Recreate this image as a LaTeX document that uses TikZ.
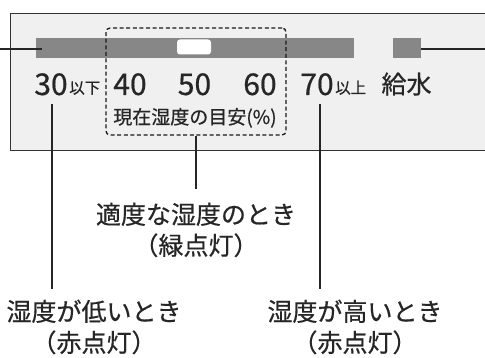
\documentclass[tikz,border=0pt]{standalone}
\usepackage{fontspec}
\setmainfont{Noto Sans CJK JP}[FakeBold=0.6]
\begin{document}
\begin{tikzpicture}[x=1pt,y=-1pt,
  ink/.style={text=black!85},
  lead/.style={draw=black!85,line width=1.1pt},
  num/.style={ink,font=\fontsize{30}{30}\selectfont,inner sep=0pt,anchor=base},
  small/.style={ink,font=\fontsize{15.5}{16}\selectfont,inner sep=0pt,anchor=base west},
  lbl/.style={ink,font=\fontsize{25}{31}\selectfont,align=center,inner sep=0pt},
  graybar/.style={fill=black!47,draw=none,inner sep=0pt}]
\useasboundingbox (0,0) rectangle (485,358);
\clip (0,0) rectangle (485,358);
\fill[white] (0,0) rectangle (485,358);
% panel
\node[draw=black!80,line width=1.2pt,fill=black!6,minimum width=500,minimum height=137,inner sep=0pt,anchor=north west] (panel) at (10,13) {};
% bar and indicator
\node[graybar,minimum width=318,minimum height=20] (bar) at (195,48) {};
\node[fill=white,rounded corners=3pt,minimum width=34,minimum height=15,inner sep=0pt] (ind) at (194,47) {};
\node[graybar,minimum width=28,minimum height=20] (sq) at (407,48) {};
% dashed box
\node[draw=black!90,dashed,dash pattern=on 4pt off 2.6pt,line width=1.3pt,rounded corners=4pt,minimum width=180,minimum height=107,inner sep=0pt] (dbox) at (196,81.5) {};
% numbers
\node[num] (n30) at (51,95) {30};
\node[small] (n30s) at (69,93.5) {以下};
\node[num] (n40) at (130,95) {40};
\node[num] (n50) at (194.5,95) {50};
\node[num] (n60) at (260,95) {60};
\node[num] (n70) at (317,95) {70};
\node[small] (n70s) at (335,93.5) {以上};
\node[ink,font=\fontsize{25}{25}\selectfont,inner sep=0pt,anchor=base] (kyusui) at (406.5,93.5) {給水};
\node[ink,font=\fontsize{19}{19}\selectfont,inner sep=0pt,anchor=base] (meyasu) at (195,124) {現在湿度の目安(\%)};
% labels
\node[lbl] (mid) at (196,230) {適度な湿度のとき\\（緑点灯）};
\node[lbl] (low) at (94,327) {湿度が低いとき\\（赤点灯）};
\node[lbl] (high) at (355,327) {湿度が高いとき\\（赤点灯）};
% side connectors
\coordinate (lfree) at (0,49);
\coordinate (rfree) at (485,49);
\draw[lead] (lfree) -- ([xshift=6pt]bar.west |- lfree);
\draw[lead] (sq.east |- rfree) -- (rfree);
% leaders
\coordinate (lowtop) at (52,289);
\coordinate (hightop) at (320,289);
\coordinate (midtop) at (196,189);
\draw[lead] (52,104) -- (lowtop);
\draw[lead] (320,104) -- (hightop);
\draw[lead] (dbox.south) -- (midtop);
\end{tikzpicture}
\end{document}
